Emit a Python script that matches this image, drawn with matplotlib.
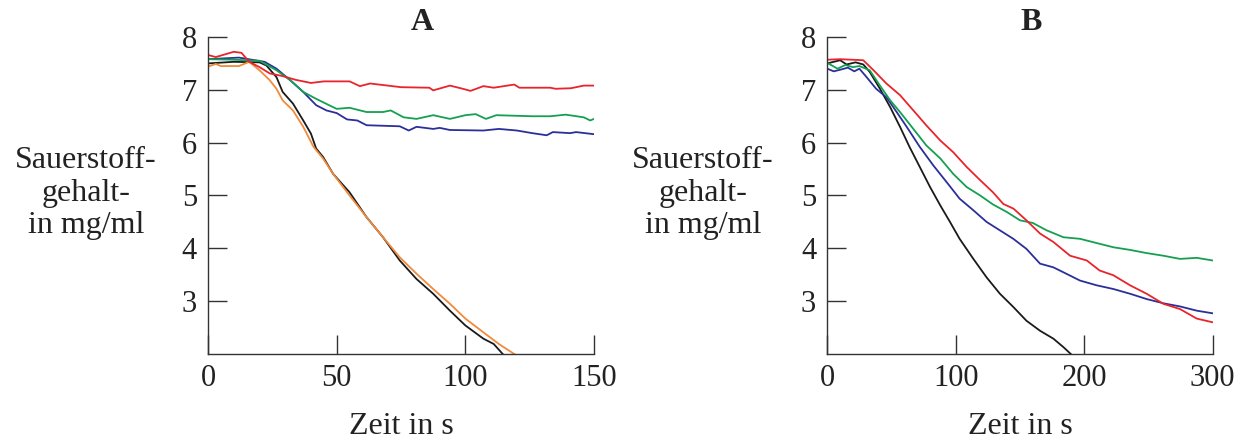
import numpy as np
import matplotlib.pyplot as plt

plt.rcParams['font.family'] = ['Liberation Serif', 'DejaVu Serif']

# ---------------- Daten Teil A (0-150 s) ----------------
tA_rot = [0, 3, 10, 13, 16, 20, 24, 29, 34, 40, 45, 55, 59, 63, 75, 86, 87.5, 94, 99, 102,
          107, 111, 119, 121, 133, 135, 141, 146, 150]
yA_rot = [7.66, 7.62, 7.72, 7.70, 7.53, 7.43, 7.31, 7.26, 7.19, 7.13, 7.16, 7.16, 7.07, 7.12,
          7.05, 7.04, 6.99, 7.08, 7.02, 6.98, 7.07, 7.04, 7.10, 7.04, 7.04, 7.02, 7.03, 7.08, 7.08]

tA_gruen = [0, 10, 20, 26.6, 32, 37, 42, 47, 50, 55, 61.6, 68, 71, 76, 81, 87.5, 94, 100, 104,
            108, 112, 126, 133, 139, 146, 148.5, 150]
yA_gruen = [7.58, 7.57, 7.55, 7.37, 7.18, 6.96, 6.83, 6.71, 6.64, 6.66, 6.58, 6.58, 6.61, 6.48,
            6.45, 6.52, 6.45, 6.52, 6.54, 6.45, 6.52, 6.50, 6.50, 6.53, 6.48, 6.42, 6.45]

tA_blau = [0, 12, 22, 26.6, 32, 37, 42, 46, 50, 54, 58, 61.6, 68, 74.5, 78, 81, 87.5, 90, 94,
           107, 113, 120, 126, 131.6, 134, 140.7, 143, 150]
yA_blau = [7.58, 7.61, 7.53, 7.40, 7.18, 6.96, 6.71, 6.61, 6.56, 6.44, 6.42, 6.33, 6.32, 6.31,
           6.23, 6.30, 6.26, 6.28, 6.24, 6.23, 6.26, 6.23, 6.18, 6.14, 6.20, 6.18, 6.20, 6.16]

tA_schwarz = [0, 10, 20, 22.7, 26.6, 29, 33, 37, 40, 42, 44.7, 48.6, 55, 61.6, 68, 74.5, 81,
              87.5, 94, 100, 107, 111, 114.7]
yA_schwarz = [7.50, 7.53, 7.52, 7.46, 7.24, 6.96, 6.74, 6.42, 6.17, 5.89, 5.73, 5.41, 5.06,
              4.59, 4.21, 3.77, 3.42, 3.14, 2.82, 2.54, 2.29, 2.19, 1.99]

tA_orange = [0, 3, 5, 12, 16, 20, 24, 26.6, 29, 33, 37, 41, 44.7, 48.6, 55, 61.6, 68, 74.5,
             81, 87.5, 94, 100, 107, 113, 119.3]
yA_orange = [7.44, 7.49, 7.45, 7.45, 7.53, 7.37, 7.18, 7.02, 6.80, 6.61, 6.30, 5.92, 5.70,
             5.41, 5.00, 4.59, 4.21, 3.83, 3.52, 3.23, 2.95, 2.67, 2.41, 2.19, 1.99]

# ---------------- Daten Teil B (0-300 s) ----------------
tB_rot = [0, 10, 28, 36, 46, 56.6, 67, 77, 88, 98, 108.5, 119, 129, 137, 145, 155, 165.6,
          176, 189, 202, 212, 222.7, 235.7, 248.6, 261.6, 274.6, 287.6, 300]
yB_rot = [7.57, 7.58, 7.56, 7.37, 7.12, 6.90, 6.61, 6.33, 6.04, 5.82, 5.54, 5.29, 5.06, 4.84,
          4.75, 4.53, 4.28, 4.12, 3.86, 3.77, 3.58, 3.49, 3.30, 3.14, 2.95, 2.85, 2.67, 2.60]

tB_gruen = [0, 8, 14, 20, 25, 33, 41, 49, 56.6, 67, 77, 88, 98, 108.5, 119, 129, 139.6, 150,
            160, 170.8, 183.8, 196.7, 209.7, 222.7, 235.7, 248.6, 261.6, 274.6, 287.6, 300]
yB_gruen = [7.51, 7.40, 7.47, 7.43, 7.45, 7.37, 7.08, 6.80, 6.58, 6.26, 5.95, 5.70, 5.41,
            5.16, 5.00, 4.83, 4.69, 4.53, 4.48, 4.34, 4.21, 4.18, 4.10, 4.02, 3.97, 3.91,
            3.86, 3.80, 3.82, 3.77]

tB_blau = [0, 5, 10, 16, 21, 25, 30.6, 38, 46, 54, 61.8, 72, 82.5, 93, 103, 113.7, 124,
           134.4, 144.8, 155, 165.6, 176, 186, 196.7, 209.7, 222.7, 235.7, 248.6, 261.6,
           274.6, 287.6, 300]
yB_blau = [7.40, 7.35, 7.38, 7.42, 7.35, 7.40, 7.24, 7.02, 6.86, 6.58, 6.30, 5.92, 5.57,
           5.25, 4.94, 4.72, 4.50, 4.34, 4.18, 3.99, 3.71, 3.64, 3.52, 3.39, 3.30, 3.23,
           3.14, 3.04, 2.96, 2.90, 2.82, 2.77]

tB_schwarz = [0, 10, 15, 22, 28, 33, 41, 49, 56.6, 64, 72, 80, 88, 95.5, 103, 113.7, 124,
              134.4, 144.8, 155, 165.6, 176, 183.8, 190]
yB_schwarz = [7.50, 7.56, 7.48, 7.52, 7.48, 7.34, 7.02, 6.67, 6.30, 5.92, 5.54, 5.16, 4.81,
              4.50, 4.18, 3.80, 3.45, 3.14, 2.89, 2.63, 2.44, 2.29, 2.13, 1.99]

farben = {'rot': '#e8242c', 'gruen': '#14a050', 'blau': '#2b2f9a',
          'schwarz': '#1a1a1a', 'orange': '#f08a3c'}

fig = plt.figure(figsize=(12.42, 4.42), dpi=100)
axA = fig.add_axes([0.1675, 0.1991, 0.3108, 0.7172])
axB = fig.add_axes([0.6661, 0.1991, 0.3103, 0.7172])

lw = 1.3
axA.plot(tA_schwarz, yA_schwarz, color=farben['schwarz'], lw=lw)
axA.plot(tA_orange, yA_orange, color=farben['orange'], lw=lw)
axA.plot(tA_blau, yA_blau, color=farben['blau'], lw=lw)
axA.plot(tA_gruen, yA_gruen, color=farben['gruen'], lw=lw)
axA.plot(tA_rot, yA_rot, color=farben['rot'], lw=lw)

axB.plot(tB_schwarz, yB_schwarz, color=farben['schwarz'], lw=lw)
axB.plot(tB_blau, yB_blau, color=farben['blau'], lw=lw)
axB.plot(tB_gruen, yB_gruen, color=farben['gruen'], lw=lw)
axB.plot(tB_rot, yB_rot, color=farben['rot'], lw=lw)

for ax, xmax, xt in [(axA, 150, [0, 50, 100, 150]), (axB, 300, [0, 100, 200, 300])]:
    ax.set_xlim(0, xmax)
    ax.set_ylim(2, 8)
    ax.set_xticks(xt)
    ax.set_yticks([3, 4, 5, 6, 7, 8])
    ax.spines['top'].set_visible(False)
    ax.spines['right'].set_visible(False)
    for s in ['left', 'bottom']:
        ax.spines[s].set_color('#333333')
        ax.spines[s].set_linewidth(1.0)
    ax.tick_params(direction='in', length=14, width=1.0, color='#333333',
                   labelsize=22, labelcolor='#222222')
    ax.tick_params(axis='y', pad=8)
    ax.tick_params(axis='x', pad=7)

# Beschriftungen
ylab = 'Sauerstoff-\ngehalt-\nin mg/ml'
fig.text(86 / 1242, 1 - 193 / 442, ylab, ha='center', va='center', multialignment='center',
         fontsize=23, linespacing=1.15, color='#222222')
fig.text(703 / 1242, 1 - 193 / 442, ylab, ha='center', va='center', multialignment='center',
         fontsize=23, linespacing=1.15, color='#222222')
fig.text(401 / 1242, 1 - 426 / 442, 'Zeit in s', ha='center', va='center', fontsize=23,
         color='#222222')
fig.text(1020 / 1242, 1 - 426 / 442, 'Zeit in s', ha='center', va='center', fontsize=23,
         color='#222222')
fig.text(422 / 1242, 1 - 22 / 442, 'A', ha='center', va='center', fontsize=23,
         fontweight='bold', color='#222222')
fig.text(1031 / 1242, 1 - 22 / 442, 'B', ha='center', va='center', fontsize=23,
         fontweight='bold', color='#222222')

fig.savefig('out.png', dpi=100)
